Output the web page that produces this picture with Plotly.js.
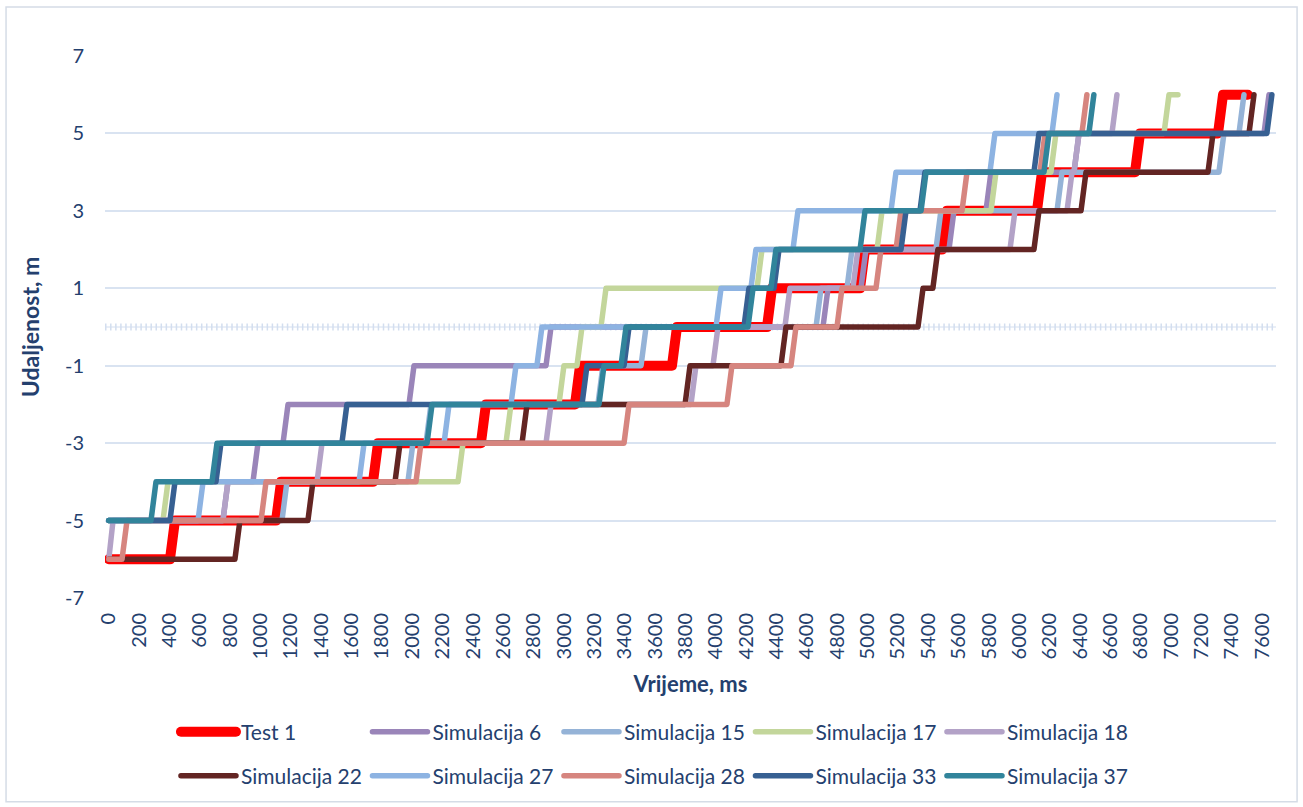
<!DOCTYPE html>
<html>
<head>
<meta charset="utf-8">
<script src="https://cdn.plot.ly/plotly-3.0.1.min.js"></script>
<style>
html,body{margin:0;padding:0;background:#ffffff;}
#chart{width:1303px;height:807px;}
#chart .scatterlayer path.js-line,
#chart .legendlines path{stroke-linejoin:round !important;stroke-linecap:round !important;}
</style>
</head>
<body>
<div id="chart"></div>
<script>
// ---- data ----
// each series: times (ms) at which a new level is reached, the levels (m), and the last time drawn
const seriesNames = ['Test 1','Simulacija 6','Simulacija 15','Simulacija 17','Simulacija 18',
                     'Simulacija 22','Simulacija 27','Simulacija 28','Simulacija 33','Simulacija 37'];

const test1Times  = [436,1135,1774,2485,3105,3744,4370,4983,5523,6149,6795,7342];
const test1Levels = [-6,-5,-4,-3,-2,-1,0,1,2,3,4,5,6];
const test1End    = 7506;

const sim6Times  = [785,983,1181,2011,2914,4739,4989,5569,5813,6393,7645];
const sim6Levels = [-5,-4,-3,-2,-1,0,1,2,3,4,5,6];
const sim6End    = 7645;

const sim15Times  = [1174,2004,2123,3256,3540,4693,4897,5483,6281,7348,7480];
const sim15Levels = [-5,-4,-3,-2,-1,0,1,2,3,4,5,6];
const sim15End    = 7480;

const sim17Times  = [390,2334,2650,2999,3118,3276,4304,5095,5846,6241,6986];
const sim17Levels = [-5,-4,-3,-2,-1,0,1,2,3,4,5,6];
const sim17End    = 7045;

const sim18Times  = [28,785,1405,2914,3869,4014,4488,4936,5971,6347,6393,6643];
const sim18Levels = [-6,-5,-4,-3,-2,-1,0,1,2,3,4,5,6];
const sim18End    = 6643;

const sim22Times  = [864,1345,1919,2756,3830,4462,5365,5463,6129,6439,7276,7546];
const sim22Levels = [-6,-5,-4,-3,-2,-1,0,1,2,3,4,5,6];
const sim22End    = 7546;

const sim27Times  = [621,1682,2242,2683,2854,4034,4264,4541,5187,5839,6248];
const sim27Levels = [-5,-4,-3,-2,-1,0,1,2,3,4,5,6];
const sim27End    = 6248;

const sim28Times  = [120,1036,2057,3428,4106,4528,4831,5088,5220,5655,6169,6445];
const sim28Levels = [-6,-5,-4,-3,-2,-1,0,1,2,3,4,5,6];
const sim28End    = 6445;

const sim33Times  = [436,739,1569,3151,3428,4218,4416,5253,5378,6129,7664];
const sim33Levels = [-5,-4,-3,-2,-1,0,1,2,3,4,5,6];
const sim33End    = 7664;

const sim37Times  = [311,713,2130,3263,3408,4245,4396,4983,5385,6195,6491];
const sim37Levels = [-5,-4,-3,-2,-1,0,1,2,3,4,5,6];
const sim37End    = 6491;

const xTickLabels = ['0','200','400','600','800','1000','1200','1400','1600','1800','2000','2200',
  '2400','2600','2800','3000','3200','3400','3600','3800','4000','4200','4400','4600','4800',
  '5000','5200','5400','5600','5800','6000','6200','6400','6600','6800','7000','7200','7400','7600'];
const yTickLabels = ['-7','-5','-3','-1','1','3','5','7'];

// ---- styling ----
const frameMs = 33; // one sample interval: a level change is drawn over one sample
const colors = ['#FF0000','#9A85B9','#95B3D7','#C3D69B','#B3A2C7',
                '#632523','#8DB3E2','#D6857F','#376092','#31849B'];
const widths = [10,5.5,5.5,5.5,5.5,5.5,5.5,5.5,5.5,5.5];
const textColor = '#24406E';

const allTimes  = [test1Times,sim6Times,sim15Times,sim17Times,sim18Times,sim22Times,sim27Times,sim28Times,sim33Times,sim37Times];
const allLevels = [test1Levels,sim6Levels,sim15Levels,sim17Levels,sim18Levels,sim22Levels,sim27Levels,sim28Levels,sim33Levels,sim37Levels];
const allEnds   = [test1End,sim6End,sim15End,sim17End,sim18End,sim22End,sim27End,sim28End,sim33End,sim37End];

function stepPath(times, levels, end) {
  const x = [0], y = [levels[0]];
  for (let i = 0; i < times.length; i++) {
    x.push(Math.max(0, times[i] - frameMs)); y.push(levels[i]);
    x.push(times[i]); y.push(levels[i + 1]);
  }
  if (end > times[times.length - 1]) { x.push(end); y.push(levels[levels.length - 1]); }
  return {x, y};
}

const traces = seriesNames.map((name, i) => {
  const p = stepPath(allTimes[i], allLevels[i], allEnds[i]);
  return {
    type: 'scatter', mode: 'lines', name: name,
    x: p.x, y: p.y,
    line: {color: colors[i], width: widths[i]},
    legend: i < 5 ? 'legend' : 'legend2',
    hoverinfo: 'skip'
  };
});

const font = 'Lato, "Open Sans", sans-serif';
const legendBase = {
  orientation: 'h', xanchor: 'left', yanchor: 'middle', x: 0.0606,
  font: {family: font, size: 21, color: textColor},
  entrywidth: 121.5, entrywidthmode: 'pixels', itemwidth: 55,
  bgcolor: 'rgba(0,0,0,0)', traceorder: 'normal'
};

const layout = {
  width: 1303, height: 807,
  margin: {l: 105, r: 27, t: 56, b: 208},
  paper_bgcolor: '#ffffff', plot_bgcolor: '#ffffff',
  font: {family: font, color: textColor},
  xaxis: {
    range: [-25, 7691],
    tickmode: 'array',
    tickvals: xTickLabels.map(Number), ticktext: xTickLabels,
    tickangle: -90,
    tickfont: {family: font, size: 20, color: textColor},
    ticks: '', ticklabelstandoff: 10,
    showgrid: false, zeroline: false, showline: false,
    automargin: false,
    title: {text: '<b>Vrijeme, ms</b>', font: {family: font, size: 22, color: textColor}, standoff: 18}
  },
  yaxis: {
    range: [-7, 7],
    tickmode: 'array',
    tickvals: yTickLabels.map(Number), ticktext: yTickLabels,
    tickfont: {family: font, size: 20, color: textColor},
    ticks: '', ticklabelstandoff: 20,
    showgrid: true, gridcolor: '#D9E3F1', gridwidth: 1.5,
    zeroline: false, showline: false,
    automargin: false,
    title: {text: '<b>Udaljenost, m</b>', font: {family: font, size: 23, color: textColor}, standoff: 18}
  },
  legend: Object.assign({}, legendBase, {y: -0.245}),
  legend2: Object.assign({}, legendBase, {y: -0.326}),
  shapes: [
    {type: 'line', xref: 'paper', x0: 0, x1: 1, yref: 'y', y0: 0, y1: 0,
     line: {color: '#D3DEEF', width: 1}, layer: 'below'},
    {type: 'line', xref: 'paper', x0: 0, x1: 1, yref: 'y', y0: 0, y1: 0,
     line: {color: '#D3DEEF', width: 7, dash: '1.5px,3.55px'}, layer: 'below'},
    {type: 'rect', xref: 'paper', yref: 'paper', x0: -0.0845, x1: 1.018, y0: -0.3757, y1: 1.0902,
     line: {color: '#D5DCE6', width: 1.5}, layer: 'below'}
  ],
  showlegend: true
};

Plotly.newPlot('chart', traces, layout, {displayModeBar: false, responsive: false});
</script>
</body>
</html>
